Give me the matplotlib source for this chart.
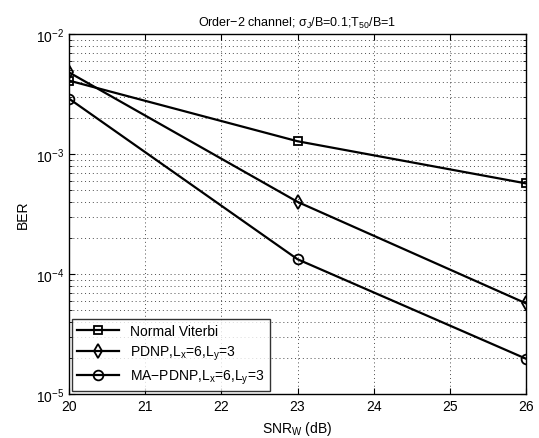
import matplotlib
matplotlib.use('Agg')
import matplotlib.pyplot as plt
from matplotlib.ticker import LogLocator, NullFormatter

snr = [20, 23, 26]
ber_viterbi = [4.1e-3, 1.28e-3, 5.7e-4]
ber_pdnp = [4.8e-3, 4.0e-4, 5.7e-5]
ber_mapdnp = [2.9e-3, 1.33e-4, 1.97e-5]

plt.rcParams['font.family'] = ['Liberation Sans', 'DejaVu Sans']
plt.rcParams['font.size'] = 8
plt.rcParams['mathtext.fontset'] = 'custom'
plt.rcParams['mathtext.rm'] = 'Liberation Sans'
plt.rcParams['mathtext.it'] = 'Liberation Sans'

dpi = 100
fig = plt.figure(dpi=dpi, figsize=(539 / dpi, 439 / dpi))
ax = fig.add_axes([0.128, 0.1, 0.848, 0.82])

ax.semilogy(snr, ber_viterbi, 'k-s', lw=1.6, ms=6, mfc='none', mew=1.3, label='Normal Viterbi')
ax.semilogy(snr, ber_pdnp, 'k-d', lw=1.6, ms=7, mfc='none', mew=1.3, label=r'PDNP,L$_\mathrm{x}$=6,L$_\mathrm{y}$=3')
ax.semilogy(snr, ber_mapdnp, 'k-o', lw=1.6, ms=7, mfc='none', mew=1.3, label=r'MA$-$PDNP,L$_\mathrm{x}$=6,L$_\mathrm{y}$=3')

ax.set_xlim(20, 26)
ax.set_ylim(1e-5, 1e-2)
ax.set_xticks(range(20, 27))
ax.yaxis.set_major_locator(LogLocator(base=10, numticks=10))
ax.yaxis.set_minor_locator(LogLocator(base=10, subs=range(2, 10), numticks=20))
ax.yaxis.set_minor_formatter(NullFormatter())
ax.tick_params(which='both', direction='in', top=True, right=True, labelsize=10)
ax.tick_params(which='major', length=4)
ax.tick_params(which='minor', length=2)
ax.grid(True, which='major', linestyle=(0, (1, 3)), color='k', lw=0.7, alpha=0.7)
ax.grid(True, which='minor', axis='y', linestyle=(0, (1, 3)), color='k', lw=0.7, alpha=0.7)
for s in ax.spines.values():
    s.set_linewidth(1.0)

ax.set_title(r'Order$-$2 channel; $\sigma_J$/B=0.1;T$_{50}$/B=1', fontsize=9)
ax.set_xlabel(r'SNR$_\mathrm{W}$ (dB)', fontsize=10)
ax.set_ylabel('BER', fontsize=10)

leg = ax.legend(loc='lower left', fancybox=False, edgecolor='k', fontsize=10,
                borderaxespad=0.2, handlelength=3, labelspacing=0.4)
leg.get_frame().set_linewidth(1.0)

fig.savefig('out.png', dpi=dpi)
